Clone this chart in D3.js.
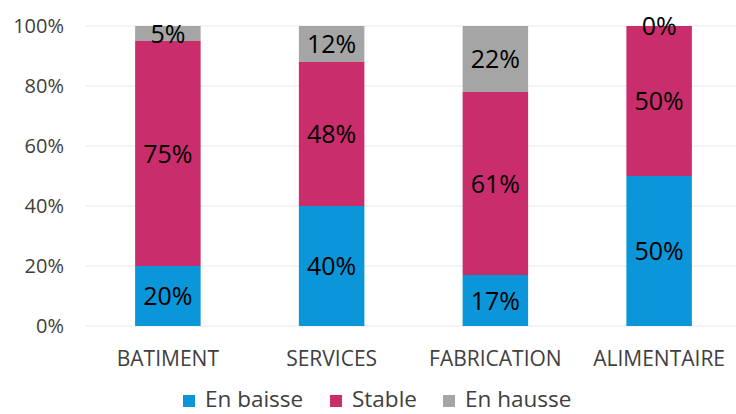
<!DOCTYPE html>
<html>
<head>
<meta charset="utf-8">
<script src="https://cdn.jsdelivr.net/npm/d3@7"></script>
<style>
  body { margin: 0; background: #fff; }
  svg { display: block; font-family: "Open Sans", sans-serif; }
</style>
</head>
<body>
<div id="chart"></div>
<script>
// Chart data
const categories = ['BATIMENT', 'SERVICES', 'FABRICATION', 'ALIMENTAIRE'];
const seriesNames = ['En baisse', 'Stable', 'En hausse'];
const enBaisse = [20, 40, 17, 50];
const stable = [75, 48, 61, 50];
const enHausse = [5, 12, 22, 0];
const yTicks = [0, 20, 40, 60, 80, 100];

const colors = ['#0A96D8', '#C92D6B', '#A5A5A5'];

const width = 736, height = 414;
const svg = d3.select('#chart').append('svg')
    .attr('width', width)
    .attr('height', height);

const x = d3.scaleBand()
    .domain(categories)
    .range([86, 741])
    .paddingInner(0.6)
    .paddingOuter(0.3);

const y = d3.scaleLinear()
    .domain([0, 100])
    .range([326, 26]);

// Gridlines
svg.append('g')
    .selectAll('line')
    .data(yTicks)
    .join('line')
    .attr('x1', 86)
    .attr('x2', 736)
    .attr('y1', d => y(d))
    .attr('y2', d => y(d))
    .attr('stroke', '#E8E8E8')
    .attr('stroke-width', 1);

// Y axis labels
svg.append('g')
    .selectAll('text')
    .data(yTicks)
    .join('text')
    .attr('x', 64)
    .attr('y', d => y(d))
    .attr('dy', '0.36em')
    .attr('text-anchor', 'end')
    .attr('font-size', 20)
    .attr('fill', '#404040')
    .text(d => d + '%');

// Stack the series
const rows = categories.map((c, i) => ({
    cat: c, 'En baisse': enBaisse[i], 'Stable': stable[i], 'En hausse': enHausse[i]
}));
const stacked = d3.stack().keys(seriesNames)(rows);

const layers = svg.append('g')
    .selectAll('g')
    .data(stacked)
    .join('g')
    .attr('fill', (d, i) => colors[i]);

layers.selectAll('rect')
    .data(d => d)
    .join('rect')
    .attr('x', d => x(d.data.cat))
    .attr('width', x.bandwidth())
    .attr('y', d => y(d[1]))
    .attr('height', d => y(d[0]) - y(d[1]));

// Data labels
layers.selectAll('text')
    .data(d => d.map(v => ({ v, key: d.key })))
    .join('text')
    .attr('x', d => x(d.v.data.cat) + x.bandwidth() / 2)
    .attr('y', d => y((d.v[0] + d.v[1]) / 2))
    .attr('dy', '0.36em')
    .attr('text-anchor', 'middle')
    .attr('font-size', 25)
    .attr('fill', '#000')
    .text(d => d.v.data[d.key] + '%');

// Category labels
svg.append('g')
    .selectAll('text')
    .data(categories)
    .join('text')
    .attr('x', d => x(d) + x.bandwidth() / 2)
    .attr('y', 358)
    .attr('dy', '0.36em')
    .attr('text-anchor', 'middle')
    .attr('font-size', 21)
    .attr('fill', '#404040')
    .text(d => d);

// Legend
const legendX = [183, 330, 443];
const legend = svg.append('g')
    .selectAll('g')
    .data(seriesNames)
    .join('g')
    .attr('transform', (d, i) => `translate(${legendX[i]},395)`);

legend.append('rect')
    .attr('width', 12)
    .attr('height', 12)
    .attr('fill', (d, i) => colors[i]);

legend.append('text')
    .attr('x', 22)
    .attr('y', 12)
    .attr('font-size', 22.5)
    .attr('fill', '#404040')
    .text(d => d);
</script>
</body>
</html>
